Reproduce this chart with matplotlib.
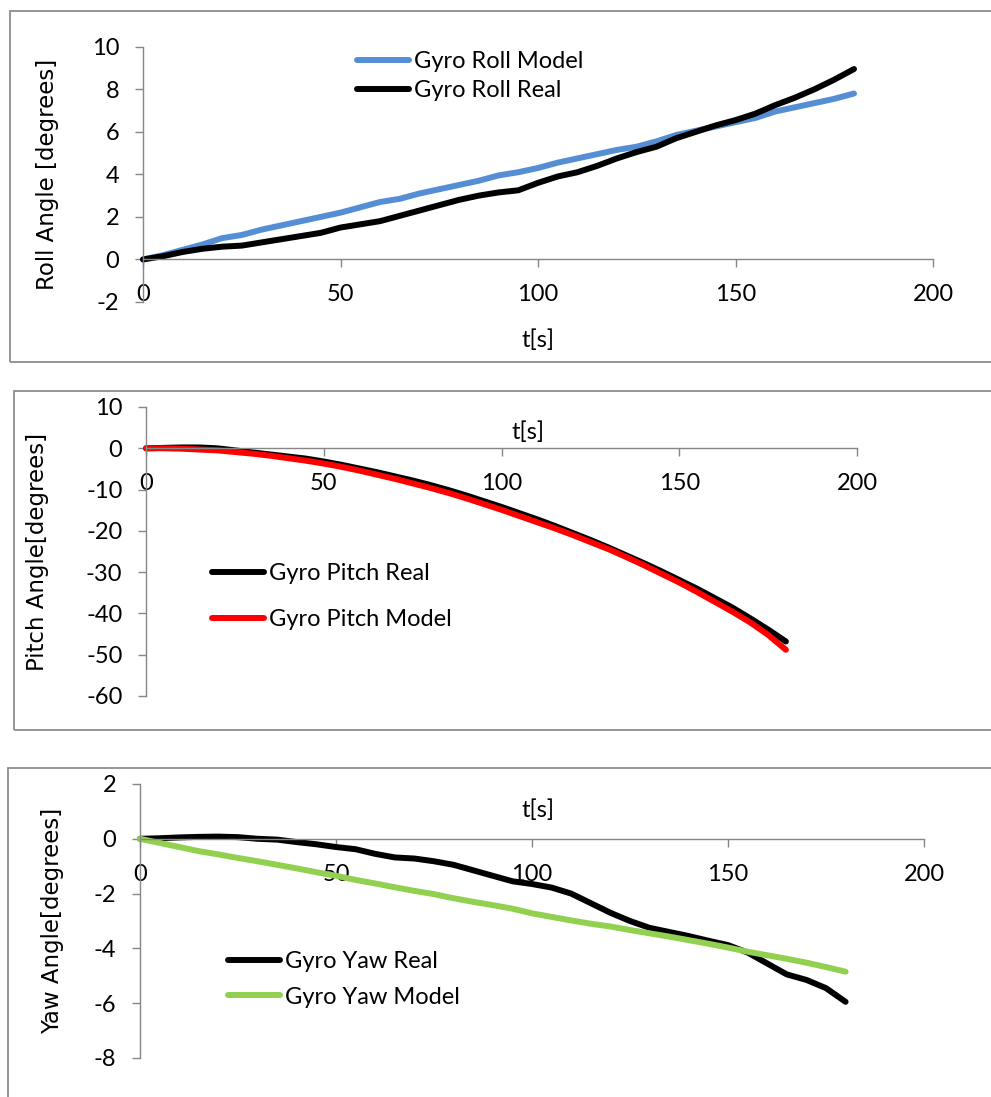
import matplotlib
matplotlib.use('Agg')
import matplotlib.pyplot as plt
from matplotlib.patches import Rectangle

# time axis [s], one sample every 5 s
t = [0, 5, 10, 15, 20, 25, 30, 35, 40, 45, 50, 55, 60, 65, 70, 75, 80, 85, 90,
     95, 100, 105, 110, 115, 120, 125, 130, 135, 140, 145, 150, 155, 160, 165,
     170, 175, 180]

roll_model = [0, 0.2, 0.45, 0.7, 1.0, 1.15, 1.4, 1.6, 1.8, 2.0, 2.2, 2.45, 2.7,
              2.85, 3.1, 3.3, 3.5, 3.7, 3.95, 4.1, 4.3, 4.55, 4.75, 4.95, 5.15,
              5.3, 5.55, 5.85, 6.05, 6.25, 6.45, 6.65, 6.95, 7.15, 7.35, 7.55, 7.8]
roll_real = [0, 0.15, 0.35, 0.5, 0.6, 0.65, 0.8, 0.95, 1.1, 1.25, 1.5, 1.65, 1.8,
             2.05, 2.3, 2.55, 2.8, 3.0, 3.15, 3.25, 3.6, 3.9, 4.1, 4.4, 4.75,
             5.05, 5.3, 5.7, 6.0, 6.3, 6.55, 6.85, 7.25, 7.6, 8.0, 8.45, 8.95]

pitch_real = [0, 0.1, 0.2, 0.2, 0.0, -0.5, -1.0, -1.5, -2.0, -2.5, -3.2, -4.0,
              -4.9, -5.8, -6.8, -7.8, -8.9, -10.1, -11.4, -12.8, -14.2, -15.7,
              -17.2, -18.8, -20.5, -22.2, -24.0, -25.9, -27.8, -29.8, -31.9,
              -34.0, -36.3, -38.6, -41.2, -43.9, -46.8]
pitch_model = [0, 0, -0.1, -0.3, -0.5, -0.9, -1.3, -1.8, -2.4, -3.0, -3.7, -4.5,
               -5.4, -6.4, -7.4, -8.5, -9.6, -10.8, -12.1, -13.5, -14.9, -16.4,
               -17.9, -19.4, -21.0, -22.7, -24.4, -26.3, -28.3, -30.4, -32.5,
               -34.8, -37.2, -39.6, -42.2, -45.2, -48.8]

yaw_real = [0, 0.02, 0.05, 0.07, 0.08, 0.06, 0.0, -0.03, -0.12, -0.2, -0.3,
            -0.38, -0.55, -0.68, -0.72, -0.82, -0.95, -1.15, -1.35, -1.55, -1.65,
            -1.78, -2.0, -2.35, -2.7, -3.0, -3.25, -3.4, -3.55, -3.72, -3.88,
            -4.15, -4.55, -4.95, -5.15, -5.45, -5.95]
yaw_model = [0, -0.15, -0.3, -0.45, -0.57, -0.7, -0.82, -0.95, -1.08, -1.22,
             -1.35, -1.5, -1.63, -1.77, -1.9, -2.02, -2.17, -2.3, -2.42, -2.55,
             -2.72, -2.85, -2.98, -3.1, -3.2, -3.33, -3.45, -3.57, -3.7, -3.83,
             -3.97, -4.12, -4.25, -4.38, -4.52, -4.68, -4.85]

x_ticks = [0, 50, 100, 150, 200]

GRAY = '#868686'
BOX = '#8c8c8c'
FONT = 'Lato'
YFONT = 'DejaVu Sans'
FS = 17
YFS = 16.5

plt.rcParams['axes.unicode_minus'] = False

W, H = 991, 1097
fig = plt.figure(figsize=(W / 100, H / 100), dpi=100)


def fx(px):
    return px / W


def fy(py):
    return 1 - py / H


def panel_box(left, top, bottom):
    fig.add_artist(Rectangle((fx(left), fy(bottom)), fx(1010 - left), (bottom - top) / H,
                             transform=fig.transFigure, fill=False, ec=BOX, lw=1.3))


def make_axes(left, right, top, bottom, ylim, yticks):
    ax = fig.add_axes([fx(left), fy(bottom), fx(right - left), (bottom - top) / H])
    ax.patch.set_alpha(0)
    ax.set_xlim(0, 200)
    ax.set_ylim(*ylim)
    ax.set_xticks(x_ticks)
    ax.set_yticks(yticks)
    ax.spines['top'].set_visible(False)
    ax.spines['right'].set_visible(False)
    ax.spines['bottom'].set_position(('data', 0))
    for s in ('left', 'bottom'):
        ax.spines[s].set_color(GRAY)
        ax.spines[s].set_linewidth(1.0)
    ax.tick_params(direction='out', length=6, width=1, color=GRAY, labelsize=FS)
    ax.tick_params(axis='x', pad=12)
    ax.tick_params(axis='y', pad=11)
    for lab in ax.get_xticklabels() + ax.get_yticklabels():
        lab.set_fontfamily(FONT)
    return ax


def add_legend(ax, x, y, spacing):
    ax.legend(loc='upper left', bbox_to_anchor=(fx(x), fy(y)), bbox_transform=fig.transFigure,
              frameon=False, borderpad=0, borderaxespad=0, handlelength=2.2,
              handletextpad=0.2, labelspacing=spacing,
              prop={'family': FONT, 'size': FS})


line_kw = dict(lw=4.3, solid_capstyle='round', clip_on=False)

# roll
panel_box(10, 11, 361.5)
ax1 = make_axes(143, 933, 46.7, 302, (-2, 10), [-2, 0, 2, 4, 6, 8, 10])
ax1.plot(t, roll_model, color='#558ed5', label='Gyro Roll Model', **line_kw)
ax1.plot(t, roll_real, color='black', label='Gyro Roll Real', **line_kw)
ax1.set_xlabel('t[s]', fontfamily=FONT, fontsize=FS)
ax1.xaxis.set_label_coords(0.5, -0.149)
ax1.xaxis.label.set_va('center')
ax1.set_ylabel('Roll Angle [degrees]', fontfamily=YFONT, fontsize=YFS)
ax1.yaxis.set_label_coords(-0.1215, 0.5)
ax1.yaxis.label.set_va('center')
add_legend(ax1, 357, 51, 0.33)

# pitch
panel_box(13.5, 391.5, 730)
ax2 = make_axes(146, 857, 407, 696, (-60, 10), [-60, -50, -40, -30, -20, -10, 0, 10])
ax2.plot(t, pitch_real, color='black', label='Gyro Pitch Real', **line_kw)
ax2.plot(t, pitch_model, color='#ff0000', label='Gyro Pitch Model', **line_kw)
ax2.set_xlabel('t[s]', fontfamily=FONT, fontsize=FS)
ax2.xaxis.set_label_coords(0.537, 0.913)
ax2.xaxis.label.set_va('center')
ax2.set_ylabel('Pitch Angle[degrees]', fontfamily=YFONT, fontsize=YFS)
ax2.yaxis.set_label_coords(-0.153, 0.5)
ax2.yaxis.label.set_va('center')
add_legend(ax2, 212, 563, 1.05)

# yaw
panel_box(8, 767.5, 1120)
ax3 = make_axes(140, 924, 784, 1058, (-8, 2), [-8, -6, -4, -2, 0, 2])
ax3.plot(t, yaw_real, color='black', label='Gyro Yaw Real', **line_kw)
ax3.plot(t, yaw_model, color='#92d050', label='Gyro Yaw Model', **line_kw)
ax3.set_xlabel('t[s]', fontfamily=FONT, fontsize=FS)
ax3.xaxis.set_label_coords(0.508, 0.905)
ax3.xaxis.label.set_va('center')
ax3.set_ylabel('Yaw Angle[degrees]', fontfamily=YFONT, fontsize=YFS)
ax3.yaxis.set_label_coords(-0.112, 0.5)
ax3.yaxis.label.set_va('center')
add_legend(ax3, 228, 951, 0.62)

fig.savefig('out.png', dpi=100)
